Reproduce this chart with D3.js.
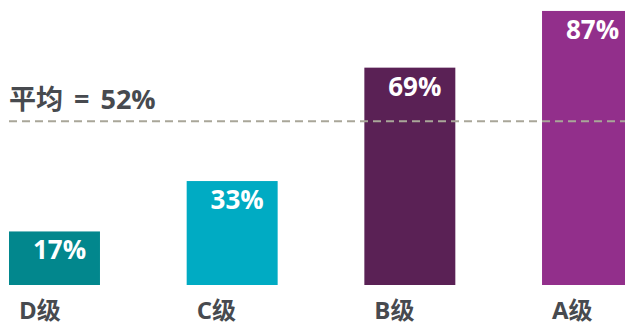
<!DOCTYPE html>
<html>
<head>
<meta charset="utf-8">
<script src="https://cdn.jsdelivr.net/npm/d3@7"></script>
<style>
  html, body { margin: 0; padding: 0; background: #ffffff; }
  svg { display: block; }
  text { font-family: "Open Sans", "Noto Sans CJK SC", sans-serif; font-weight: 700; }
</style>
</head>
<body>
<svg id="chart" width="625" height="325"></svg>
<script>
// Grade distribution, percent of group in each grade
const grades = ["D级", "C级", "B级", "A级"];
const shares = [17, 33, 69, 87];
const gradeColors = ["#02878d", "#00abc3", "#5a2155", "#922f8b"];
const averageShare = 52;
const averageLabel = "平均";

const W = 625, H = 325;
const svg = d3.select("#chart");

const x = d3.scaleBand()
  .domain(grades)
  .range([9, 633])
  .paddingInner(0.488)
  .paddingOuter(0);

const y = d3.scaleLinear()
  .domain([0, 100])
  .range([285, -30]);

// Bars
svg.append("g")
  .selectAll("rect")
  .data(grades)
  .join("rect")
  .attr("x", d => x(d))
  .attr("width", x.bandwidth())
  .attr("y", (d, i) => y(shares[i]))
  .attr("height", (d, i) => y(0) - y(shares[i]))
  .attr("fill", (d, i) => gradeColors[i]);

// Average reference line
svg.append("line")
  .attr("x1", 9)
  .attr("x2", W)
  .attr("y1", y(averageShare))
  .attr("y2", y(averageShare))
  .attr("stroke", "#a9a699")
  .attr("stroke-width", 2)
  .attr("stroke-dasharray", "8 5");

svg.append("text")
  .attr("x", 9)
  .attr("y", 109)
  .attr("fill", "#474a4f")
  .attr("font-size", 27)
  .attr("word-spacing", 4)
  .text(`${averageLabel} = ${averageShare}%`);

// Value labels inside bar tops
svg.append("g")
  .selectAll("text")
  .data(grades)
  .join("text")
  .attr("x", d => x(d) + x.bandwidth() / 2 + 5)
  .attr("y", (d, i) => y(shares[i]) + 28)
  .attr("text-anchor", "middle")
  .attr("fill", "#ffffff")
  .attr("font-size", 26)
  .text((d, i) => `${shares[i]}%`);

// Category labels under the bars
svg.append("g")
  .selectAll("text")
  .data(grades)
  .join("text")
  .attr("x", d => x(d) + 10)
  .attr("y", 319)
  .attr("fill", "#474a4f")
  .attr("font-size", 24)
  .text(d => d);
</script>
</body>
</html>
